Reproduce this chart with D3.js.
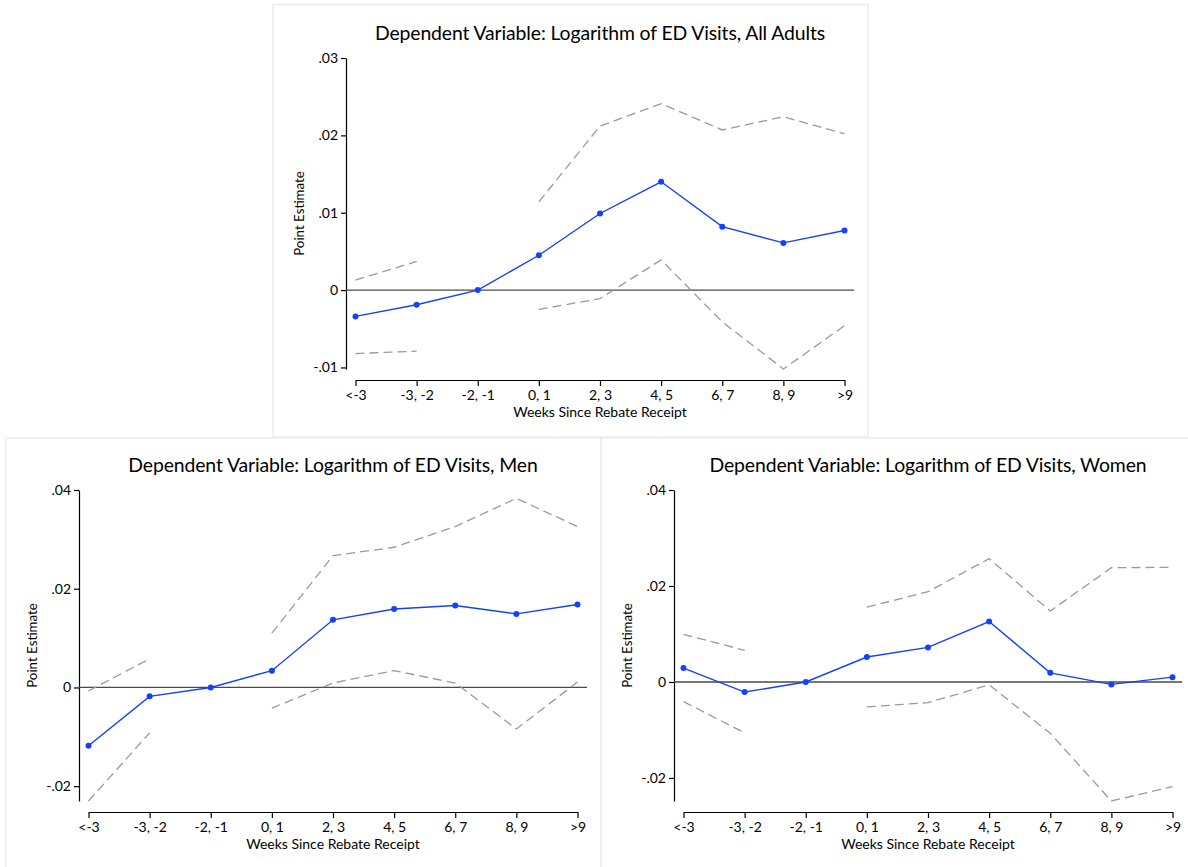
<!DOCTYPE html>
<html>
<head>
<meta charset="utf-8">
<script src="https://cdn.jsdelivr.net/npm/d3@7/dist/d3.min.js"></script>
<style>
  html, body { margin: 0; padding: 0; background: #fff; }
  svg { display: block; }
  text { font-family: Lato, "Open Sans", "DejaVu Sans", sans-serif; fill: #000; }
</style>
</head>
<body>
<svg id="chart" width="1188" height="867"></svg>
<script>
// ---- Data ----
const categories = ["<-3", "-3, -2", "-2, -1", "0, 1", "2, 3", "4, 5", "6, 7", "8, 9", ">9"];

const allEst   = [-0.0034, -0.0019, 0, 0.0045, 0.0099, 0.0140, 0.0082, 0.0061, 0.0077];
const allUpper = [0.0013, 0.0037, null, 0.0114, 0.0212, 0.0241, 0.0207, 0.0224, 0.0202];
const allLower = [-0.0082, -0.0079, null, -0.0025, -0.0011, 0.0039, -0.0041, -0.0102, -0.0046];

const menEst   = [-0.0118, -0.0018, 0, 0.0034, 0.0137, 0.0159, 0.0166, 0.0149, 0.0168];
const menUpper = [-0.0007, 0.0058, null, 0.0110, 0.0267, 0.0284, 0.0326, 0.0383, 0.0326];
const menLower = [-0.0230, -0.0092, null, -0.0042, 0.0009, 0.0034, 0.0009, -0.0084, 0.0011];

const womenEst   = [0.0029, -0.0021, 0, 0.0052, 0.0072, 0.0126, 0.0019, -0.0005, 0.0010];
const womenUpper = [0.0099, 0.0066, null, 0.0156, 0.0188, 0.0257, 0.0148, 0.0238, 0.0239];
const womenLower = [-0.0041, -0.0106, null, -0.0052, -0.0043, -0.0006, -0.0107, -0.0248, -0.0218];

const allTicks = [-0.01, 0, 0.01, 0.02, 0.03];
const allTickLabels = ["-.01", "0", ".01", ".02", ".03"];
const sexTicks = [-0.02, 0, 0.02, 0.04];
const sexTickLabels = ["-.02", "0", ".02", ".04"];

const titles = [
  "Dependent Variable: Logarithm of ED Visits, All Adults",
  "Dependent Variable: Logarithm of ED Visits, Men",
  "Dependent Variable: Logarithm of ED Visits, Women"
];
const xTitle = "Weeks Since Rebate Receipt";
const yTitle = "Point Estimate";

// ---- Layout ----
const svg = d3.select("#chart");
const PW = 508, PH = 311;

const panels = [
  { box: [273, 4.5, 595, 432.5], left: 346, top: 58, est: allEst, up: allUpper, lo: allLower, ticks: allTicks, labels: allTickLabels, title: titles[0] },
  { box: [6, 438, 595, 440], left: 79, top: 490, est: menEst, up: menUpper, lo: menLower, ticks: sexTicks, labels: sexTickLabels, title: titles[1] },
  { box: [601, 438, 600, 440], left: 674, top: 490, est: womenEst, up: womenUpper, lo: womenLower, ticks: sexTicks, labels: sexTickLabels, title: titles[2] }
];

panels.forEach(p => {
  const g = svg.append("g");
  g.append("rect")
    .attr("x", p.box[0]).attr("y", p.box[1])
    .attr("width", p.box[2]).attr("height", p.box[3])
    .attr("fill", "#fff").attr("stroke", "#ececec").attr("stroke-width", 1.5);

  const vals = p.est.concat(p.up, p.lo).filter(v => v != null).concat(p.ticks);
  const ext = d3.extent(vals);
  const y = d3.scaleLinear().domain(ext).range([p.top + PH, p.top]);
  const x = d3.scalePoint().domain(categories).range([p.left + 9.5, p.left + PW - 9.5]);

  // title
  g.append("text")
    .attr("x", p.left + PW / 2).attr("y", p.top - 18)
    .attr("text-anchor", "middle")
    .style("font-size", "19.4px")
    .style("letter-spacing", "-0.12px")
    .text(p.title);

  // y axis
  const yAxis = d3.axisLeft(y).tickValues(p.ticks)
    .tickFormat((d, i) => p.labels[i]).tickSize(5).tickPadding(3).tickSizeOuter(0);
  const ya = g.append("g").attr("transform", `translate(${p.left},0)`).call(yAxis);
  ya.select(".domain").attr("stroke", "#000").attr("stroke-width", 1.2);
  ya.selectAll(".tick line").attr("stroke", "#000").attr("stroke-width", 1.2);
  ya.selectAll(".tick text").style("font-size", "14px").style("font-family", "Lato, sans-serif").attr("fill", "#000");

  // x axis
  const axisY = p.top + PH + 11;
  const xAxis = d3.axisBottom(x).tickSize(6).tickPadding(4).tickSizeOuter(0);
  const xa = g.append("g").attr("transform", `translate(0,${axisY})`).call(xAxis);
  xa.select(".domain").attr("stroke", "#000").attr("stroke-width", 1.2);
  xa.selectAll(".tick line").attr("stroke", "#000").attr("stroke-width", 1.2);
  xa.selectAll(".tick text").style("font-size", "14px").style("font-family", "Lato, sans-serif").attr("fill", "#000");

  // axis titles
  g.append("text")
    .attr("x", p.left + PW / 2).attr("y", axisY + 37)
    .attr("text-anchor", "middle").style("font-size", "14px")
    .text(xTitle);
  g.append("text")
    .attr("transform", `translate(${p.left - 42},${p.top + PH / 2}) rotate(-90)`)
    .attr("text-anchor", "middle").style("font-size", "13.3px")
    .text(yTitle);

  // zero line
  g.append("line")
    .attr("x1", p.left).attr("x2", p.left + PW)
    .attr("y1", y(0)).attr("y2", y(0))
    .attr("stroke", "#4a4a4a").attr("stroke-width", 1.3);

  const line = d3.line()
    .defined(d => d.v != null)
    .x(d => x(d.c)).y(d => y(d.v));

  const toPts = arr => arr.map((v, i) => ({ c: categories[i], v }));

  // CI lines
  [p.up, p.lo].forEach(arr => {
    g.append("path").datum(toPts(arr))
      .attr("d", line)
      .attr("fill", "none")
      .attr("stroke", "#9a9a9a").attr("stroke-width", 1.3)
      .attr("stroke-dasharray", "9,5");
  });

  // estimate line
  g.append("path").datum(toPts(p.est))
    .attr("d", line)
    .attr("fill", "none")
    .attr("stroke", "#1440ff").attr("stroke-width", 1.4);
  g.selectAll("circle.pt").data(toPts(p.est)).enter().append("circle")
    .attr("class", "pt")
    .attr("cx", d => x(d.c)).attr("cy", d => y(d.v)).attr("r", 3)
    .attr("fill", "#1440ff");
});
</script>
</body>
</html>
